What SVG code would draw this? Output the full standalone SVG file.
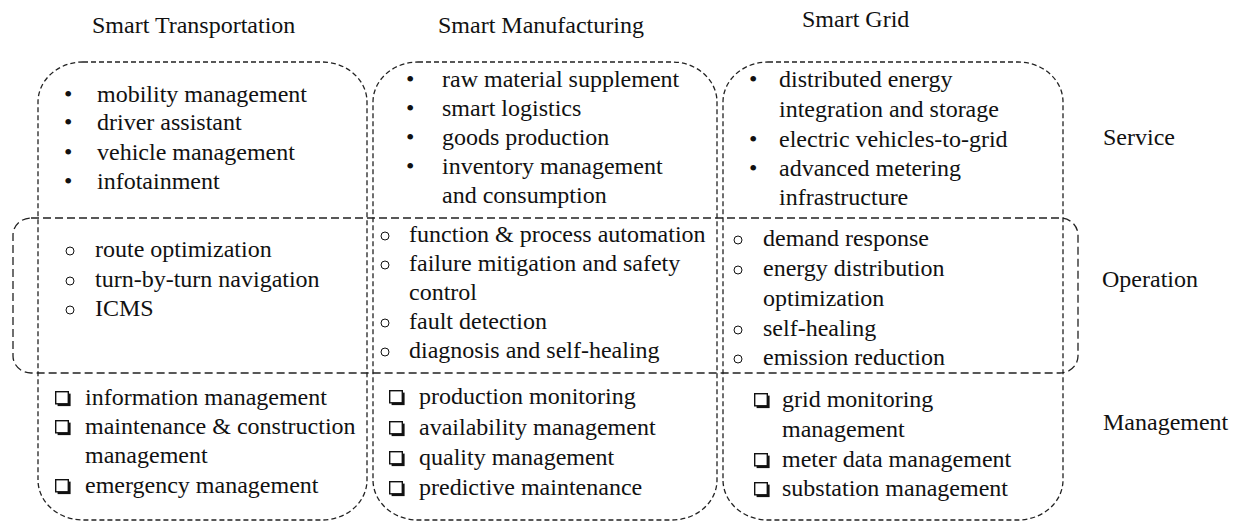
<svg xmlns="http://www.w3.org/2000/svg" width="1241" height="523" viewBox="0 0 1241 523">
<style>
.t{font-family:'Liberation Serif','Times New Roman',Times,serif;font-size:24px;fill:#111}
.box{fill:none;stroke:#222;stroke-width:1.3;stroke-dasharray:5 3}
.op{fill:none;stroke:#222;stroke-width:1.3;stroke-dasharray:8 4}
.ci{fill:none;stroke:#111;stroke-width:1}
</style>
<defs>
<g id="sq">
<rect x="2.6" y="2.6" width="13" height="12.5" fill="#111"/>
<rect x="0.7" y="0.7" width="12.6" height="12.1" fill="#fff" stroke="#111" stroke-width="1.4"/>
</g>
<circle id="ob" class="ci" cx="0" cy="0" r="4"/>
</defs>
<rect width="1241" height="523" fill="#fff"/>
<g id="all" class="t" font-family="Liberation Serif, Times New Roman, serif">
<g id="titles">
<text x="92" y="33">Smart Transportation</text>
<text x="438" y="33">Smart Manufacturing</text>
<text x="802" y="27">Smart Grid</text>
</g>
<g id="layer-labels">
<text x="1103" y="145">Service</text>
<text x="1102" y="287">Operation</text>
<text x="1103" y="430">Management</text>
</g>
<g id="layer-operation">
<rect class="op" x="13" y="218" width="1065" height="155" rx="18" ry="17"/>
</g>
<g id="col-transport">
<rect class="box" x="38" y="62" width="329" height="458" rx="45" ry="40"/>
<text x="64" y="102">•</text><text x="97" y="102">mobility management</text>
<text x="64" y="130">•</text><text x="97" y="130">driver assistant</text>
<text x="64" y="160">•</text><text x="97" y="160">vehicle management</text>
<text x="64" y="189">•</text><text x="97" y="189">infotainment</text>
<use href="#ob" x="70" y="251"/><text x="95" y="257">route optimization</text>
<use href="#ob" x="70" y="281"/><text x="95" y="287">turn-by-turn navigation</text>
<use href="#ob" x="70" y="310"/><text x="95" y="316">ICMS</text>
<use href="#sq" x="55" y="391"/><text x="85" y="405">information management</text>
<use href="#sq" x="55" y="420"/><text x="85" y="434">maintenance &amp; construction</text>
<text x="85" y="463">management</text>
<use href="#sq" x="55" y="479"/><text x="85" y="493">emergency management</text>
</g>
<g id="col-manufacturing">
<rect class="box" x="373" y="62" width="344" height="458" rx="45" ry="40"/>
<text x="406" y="87">•</text><text x="442" y="87">raw material supplement</text>
<text x="406" y="116">•</text><text x="442" y="116">smart logistics</text>
<text x="406" y="145">•</text><text x="442" y="145">goods production</text>
<text x="406" y="174">•</text><text x="442" y="174">inventory management</text>
<text x="442" y="203">and consumption</text>
<use href="#ob" x="385" y="236"/><text x="409" y="242">function &amp; process automation</text>
<use href="#ob" x="385" y="265"/><text x="409" y="271">failure mitigation and safety</text>
<text x="409" y="300">control</text>
<use href="#ob" x="385" y="323"/><text x="409" y="329">fault detection</text>
<use href="#ob" x="385" y="352"/><text x="409" y="358">diagnosis and self-healing</text>
<use href="#sq" x="389" y="390"/><text x="419" y="404">production monitoring</text>
<use href="#sq" x="389" y="421"/><text x="419" y="435">availability management</text>
<use href="#sq" x="389" y="451"/><text x="419" y="465">quality management</text>
<use href="#sq" x="389" y="481"/><text x="419" y="495">predictive maintenance</text>
</g>
<g id="col-grid">
<rect class="box" x="723" y="62" width="340" height="458" rx="45" ry="40"/>
<text x="749" y="87">•</text><text x="779" y="87">distributed energy</text>
<text x="779" y="117">integration and storage</text>
<text x="749" y="147">•</text><text x="779" y="147">electric vehicles-to-grid</text>
<text x="749" y="176">•</text><text x="779" y="176">advanced metering</text>
<text x="779" y="205">infrastructure</text>
<use href="#ob" x="738" y="240"/><text x="763" y="246">demand response</text>
<use href="#ob" x="738" y="270"/><text x="763" y="276">energy distribution</text>
<text x="763" y="306">optimization</text>
<use href="#ob" x="738" y="330"/><text x="763" y="336">self-healing</text>
<use href="#ob" x="738" y="359"/><text x="763" y="365">emission reduction</text>
<use href="#sq" x="754" y="393"/><text x="782" y="407">grid monitoring</text>
<text x="782" y="437">management</text>
<use href="#sq" x="754" y="453"/><text x="782" y="467">meter data management</text>
<use href="#sq" x="754" y="482"/><text x="782" y="496">substation management</text>
</g>
</g>
</svg>
